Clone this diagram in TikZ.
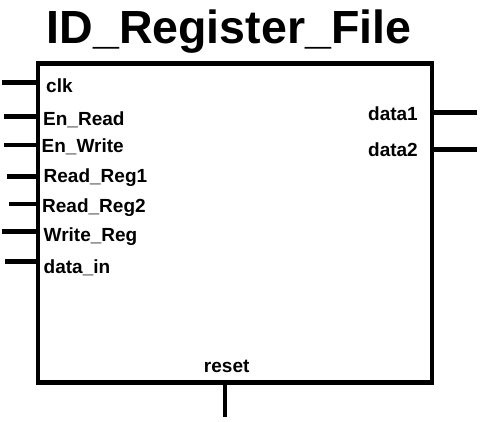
\documentclass[tikz,border=0pt]{standalone}
\usepackage{fontspec}
\setmainfont{Liberation Sans}
\begin{document}
\begin{tikzpicture}[x=1pt,y=-1pt,
  wire/.style={line width=4.6pt},
  lbl/.style={font=\fontsize{19}{19}\selectfont\bfseries, inner sep=0pt},
  lblL/.style={lbl, anchor=base west},
  lblR/.style={lbl, anchor=base east}]
\useasboundingbox (0,0) rectangle (485,421);
\node[font=\fontsize{46.5}{46.5}\selectfont\bfseries, inner sep=0pt, anchor=base] (title) at (229,43.5) {ID\_Register\_File};
\node[draw, line width=4.6pt, minimum width=394pt, minimum height=319pt, inner sep=0pt, anchor=north west] (box) at (35.5,61) {};
% left inputs
\coordinate (iclk) at (2,82.7);   \coordinate (bclk) at (35.5,82.7);
\coordinate (ier) at (4,116.7);   \coordinate (ber) at (35.5,116.7);
\coordinate (iew) at (4,145);     \coordinate (bew) at (35.5,145);
\coordinate (ir1) at (7,176.7);   \coordinate (br1) at (35.5,176.7);
\coordinate (ir2) at (9,204);     \coordinate (br2) at (35.5,204);
\coordinate (iwr) at (2,231.7);   \coordinate (bwr) at (35.5,231.7);
\coordinate (idi) at (5,261.7);   \coordinate (bdi) at (35.5,261.7);
\foreach \a/\b in {iclk/bclk,ier/ber,iew/bew,ir1/br1,ir2/br2,iwr/bwr,idi/bdi}
  \draw[wire] (\a) -- (\b);
\node[lblL] (lclk) at (46,92) {clk};
\node[lblL] (ler) at (43,125) {En\_Read};
\node[lblL] (lew) at (41.5,152.7) {En\_Write};
\node[lblL] (lr1) at (43.5,182.7) {Read\_Reg1};
\node[lblL] (lr2) at (42,212.5) {Read\_Reg2};
\node[lblL] (lwr) at (43.5,241.7) {Write\_Reg};
\node[lblL] (ldi) at (43.5,273.3) {data\_in};
% right outputs
\coordinate (bd1) at (429.5,112.3); \coordinate (od1) at (477,112.3);
\coordinate (bd2) at (429.5,149.3); \coordinate (od2) at (477,149.3);
\draw[wire] (bd1) -- (od1);
\draw[wire] (bd2) -- (od2);
\node[lblR] (ld1) at (418,120) {data1};
\node[lblR] (ld2) at (418,156.7) {data2};
% reset
\coordinate (brs) at (225,380); \coordinate (ors) at (225,417);
\draw[wire] (brs) -- (ors);
\node[lbl, anchor=base] (lrs) at (226.7,372.3) {reset};
\end{tikzpicture}
\end{document}
